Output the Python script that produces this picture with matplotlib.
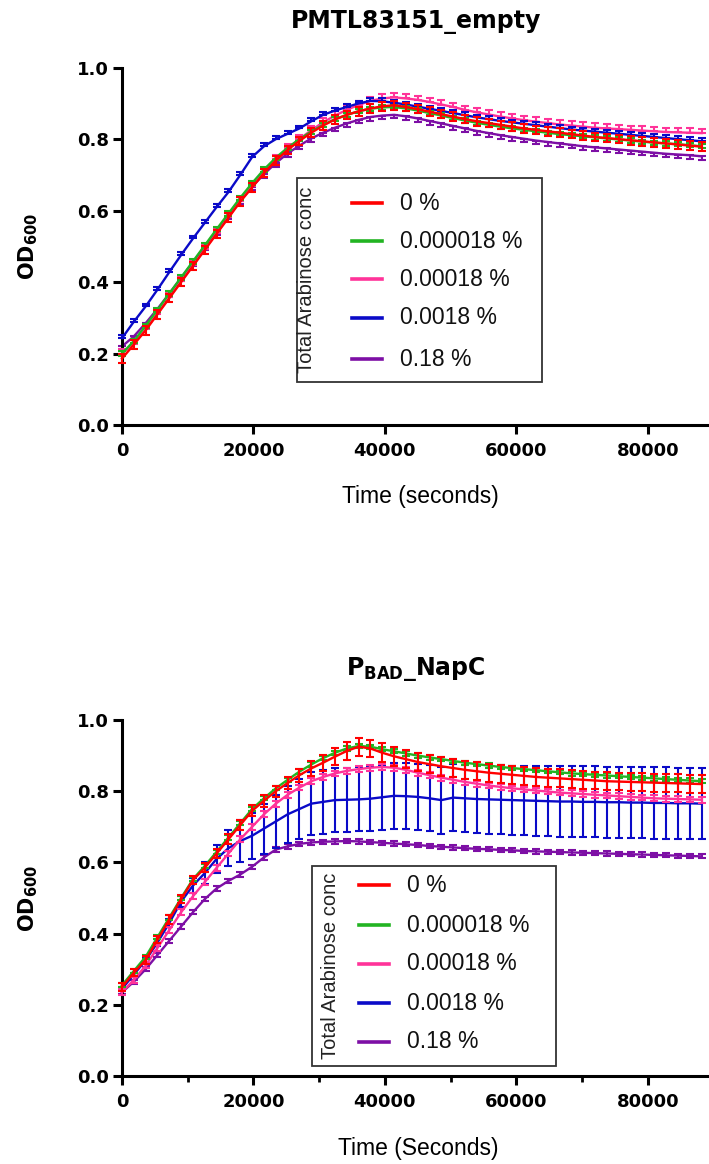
import matplotlib
matplotlib.use("Agg")
import matplotlib.pyplot as plt
from matplotlib.patches import Rectangle
from matplotlib.lines import Line2D
from matplotlib.ticker import MultipleLocator, FormatStrFormatter

plt.rcParams['mathtext.fontset'] = 'dejavusans'

# ---- data ----
time_s = [0, 1800, 3600, 5400, 7200, 9000, 10800, 12600, 14400, 16200,
          18000, 19800, 21600, 23400, 25200, 27000, 28800, 30600, 32400, 34200,
          36000, 37800, 39600, 41400, 43200, 45000, 46800, 48600, 50400, 52200,
          54000, 55800, 57600, 59400, 61200, 63000, 64800, 66600, 68400, 70200,
          72000, 73800, 75600, 77400, 79200, 81000, 82800, 84600, 86400, 88200]

conc_labels = ['0 %', '0.000018 %', '0.00018 %', '0.0018 %', '0.18 %']
colors = ['#ff0000', '#22b422', '#ff3399', '#0a0ac8', '#7d0fa5']

# PMTL83151_empty
top_red = [0.186, 0.225, 0.265, 0.31, 0.355, 0.40, 0.445, 0.49, 0.535, 0.58,
           0.625, 0.665, 0.705, 0.74, 0.77, 0.795, 0.818, 0.838, 0.855, 0.868,
           0.878, 0.886, 0.892, 0.895, 0.89, 0.884, 0.877, 0.87, 0.863, 0.856,
           0.85, 0.845, 0.84, 0.835, 0.83, 0.826, 0.822, 0.818, 0.814, 0.81,
           0.806, 0.803, 0.80, 0.797, 0.794, 0.791, 0.788, 0.785, 0.782, 0.779]
top_green = [0.20, 0.235, 0.278, 0.322, 0.368, 0.413, 0.458, 0.503, 0.548, 0.592,
             0.636, 0.677, 0.715, 0.748, 0.776, 0.80, 0.821, 0.84, 0.856, 0.868,
             0.878, 0.885, 0.889, 0.89, 0.886, 0.88, 0.873, 0.866, 0.859, 0.852,
             0.846, 0.84, 0.835, 0.83, 0.826, 0.822, 0.818, 0.814, 0.811, 0.808,
             0.805, 0.802, 0.799, 0.796, 0.793, 0.79, 0.788, 0.786, 0.783, 0.78]
top_pink = [0.20, 0.228, 0.268, 0.312, 0.357, 0.402, 0.447, 0.492, 0.537, 0.582,
            0.627, 0.668, 0.708, 0.744, 0.775, 0.80, 0.825, 0.847, 0.866, 0.882,
            0.896, 0.907, 0.914, 0.917, 0.914, 0.91, 0.904, 0.897, 0.89, 0.882,
            0.875, 0.869, 0.863, 0.858, 0.853, 0.849, 0.845, 0.841, 0.838, 0.835,
            0.832, 0.83, 0.828, 0.826, 0.824, 0.822, 0.82, 0.819, 0.818, 0.817]
top_blue = [0.243, 0.289, 0.332, 0.379, 0.428, 0.476, 0.522, 0.566, 0.61, 0.652,
            0.70, 0.75, 0.78, 0.80, 0.815, 0.83, 0.85, 0.868, 0.88, 0.89,
            0.90, 0.907, 0.906, 0.902, 0.897, 0.891, 0.885, 0.879, 0.873, 0.867,
            0.861, 0.856, 0.851, 0.847, 0.843, 0.839, 0.835, 0.831, 0.827, 0.824,
            0.821, 0.818, 0.815, 0.812, 0.809, 0.806, 0.803, 0.80, 0.797, 0.794]
top_purple = [0.22, 0.248, 0.285, 0.325, 0.368, 0.412, 0.456, 0.50, 0.543, 0.586,
              0.628, 0.667, 0.702, 0.733, 0.76, 0.782, 0.802, 0.818, 0.832, 0.844,
              0.854, 0.862, 0.866, 0.868, 0.864, 0.858, 0.851, 0.844, 0.837, 0.83,
              0.823, 0.817, 0.811, 0.806, 0.801, 0.796, 0.792, 0.788, 0.784, 0.78,
              0.777, 0.774, 0.771, 0.768, 0.765, 0.762, 0.759, 0.757, 0.755, 0.752]
top_err = [0.012, 0.006, 0.012, 0.008, 0.010]

# PBAD_NapC
bot_red = [0.25, 0.29, 0.326, 0.383, 0.44, 0.497, 0.55, 0.585, 0.625, 0.665,
           0.705, 0.745, 0.773, 0.80, 0.823, 0.845, 0.864, 0.88, 0.897, 0.913,
           0.925, 0.92, 0.908, 0.898, 0.89, 0.882, 0.876, 0.87, 0.865, 0.86,
           0.856, 0.852, 0.849, 0.846, 0.843, 0.84, 0.838, 0.836, 0.834, 0.832,
           0.83, 0.828, 0.827, 0.826, 0.825, 0.824, 0.823, 0.822, 0.821, 0.82]
bot_green = [0.255, 0.295, 0.335, 0.39, 0.445, 0.50, 0.553, 0.59, 0.63, 0.67,
             0.71, 0.75, 0.78, 0.808, 0.832, 0.855, 0.875, 0.893, 0.908, 0.92,
             0.927, 0.925, 0.918, 0.912, 0.906, 0.90, 0.895, 0.89, 0.885, 0.88,
             0.876, 0.872, 0.868, 0.865, 0.862, 0.859, 0.856, 0.853, 0.85, 0.848,
             0.846, 0.844, 0.842, 0.84, 0.838, 0.836, 0.834, 0.832, 0.83, 0.828]
bot_pink = [0.235, 0.27, 0.31, 0.36, 0.41, 0.46, 0.505, 0.545, 0.585, 0.625,
            0.665, 0.70, 0.735, 0.765, 0.79, 0.81, 0.828, 0.84, 0.85, 0.857,
            0.862, 0.866, 0.868, 0.866, 0.86, 0.852, 0.845, 0.838, 0.832, 0.826,
            0.821, 0.816, 0.812, 0.808, 0.805, 0.802, 0.799, 0.796, 0.794, 0.792,
            0.79, 0.788, 0.786, 0.784, 0.782, 0.78, 0.779, 0.778, 0.777, 0.776]
bot_blue = [0.245, 0.285, 0.325, 0.375, 0.43, 0.49, 0.535, 0.57, 0.61, 0.64,
            0.66, 0.675, 0.695, 0.715, 0.735, 0.75, 0.765, 0.77, 0.775, 0.776,
            0.777, 0.779, 0.783, 0.787, 0.786, 0.784, 0.78, 0.775, 0.782, 0.78,
            0.778, 0.777, 0.776, 0.775, 0.774, 0.773, 0.772, 0.771, 0.771, 0.77,
            0.77, 0.769, 0.769, 0.768, 0.768, 0.767, 0.767, 0.766, 0.766, 0.765]
bot_purple = [0.235, 0.265, 0.30, 0.34, 0.38, 0.42, 0.46, 0.497, 0.527, 0.548,
              0.566, 0.588, 0.614, 0.636, 0.645, 0.652, 0.656, 0.658, 0.659, 0.66,
              0.659, 0.657, 0.655, 0.653, 0.651, 0.649, 0.646, 0.644, 0.642, 0.64,
              0.638, 0.637, 0.635, 0.634, 0.632, 0.631, 0.63, 0.629, 0.628, 0.627,
              0.626, 0.625, 0.624, 0.623, 0.622, 0.621, 0.62, 0.619, 0.618, 0.617]
bot_red_err = [0.01, 0.01, 0.01, 0.01, 0.012, 0.012, 0.012, 0.012, 0.014, 0.014,
               0.015, 0.015, 0.016, 0.016, 0.018, 0.018, 0.02, 0.022, 0.024, 0.025,
               0.025, 0.025, 0.026, 0.026, 0.026, 0.026, 0.026, 0.026, 0.025, 0.025,
               0.025, 0.025, 0.025, 0.025, 0.025, 0.025, 0.025, 0.025, 0.025, 0.025,
               0.025, 0.025, 0.025, 0.025, 0.025, 0.025, 0.025, 0.025, 0.025, 0.025]
bot_blue_err = [0.005, 0.005, 0.008, 0.01, 0.012, 0.015, 0.02, 0.03, 0.04, 0.05,
                0.06, 0.065, 0.07, 0.075, 0.08, 0.085, 0.088, 0.09, 0.09, 0.09,
                0.09, 0.09, 0.092, 0.093, 0.093, 0.093, 0.093, 0.094, 0.095, 0.095,
                0.096, 0.096, 0.097, 0.097, 0.098, 0.098, 0.098, 0.099, 0.099, 0.1,
                0.1, 0.1, 0.1, 0.1, 0.1, 0.1, 0.1, 0.1, 0.1, 0.1]
bot_err_other = [0.006, 0.008, 0.006]   # green, pink, purple

W, H = 709, 1164


def fx(x):
    return x / W


def fy(y):
    return 1 - y / H


def style_axes(ax, minor):
    for s in ['top', 'right']:
        ax.spines[s].set_visible(False)
    for s in ['left', 'bottom']:
        ax.spines[s].set_linewidth(2.2)
    ax.set_xlim(0, 89320)
    ax.set_ylim(0, 1.0)
    ax.xaxis.set_major_locator(MultipleLocator(20000))
    ax.yaxis.set_major_locator(MultipleLocator(0.2))
    ax.yaxis.set_major_formatter(FormatStrFormatter('%.1f'))
    if minor:
        ax.xaxis.set_minor_locator(MultipleLocator(10000))
    ax.tick_params(which='major', length=6.5, width=2.2, labelsize=13, pad=3)
    ax.tick_params(axis='x', which='major', pad=6)
    ax.tick_params(which='minor', length=4, width=2.0)
    for lab in ax.get_xticklabels() + ax.get_yticklabels():
        lab.set_fontweight('bold')
    ax.patch.set_alpha(0)


def plot_series(ax, y, err, color, side, z):
    if side == 'up':
        yerr = [[0] * len(y), [err] * len(y) if not isinstance(err, list) else err]
    elif side == 'down':
        yerr = [[err] * len(y) if not isinstance(err, list) else err, [0] * len(y)]
    else:
        yerr = err
    ax.errorbar(time_s, y, yerr=yerr, color=color, lw=1.7, elinewidth=1.5,
                capsize=2.8, capthick=1.5, zorder=z, clip_on=False)


def draw_legend(fig, box, title_x, hx, text_x, rows):
    x0, y0, x1, y1 = box
    fig.add_artist(Rectangle((fx(x0), fy(y1)), fx(x1) - fx(x0), fy(y0) - fy(y1),
                             transform=fig.transFigure, facecolor='white',
                             edgecolor='#333333', lw=1.3, zorder=10))
    fig.text(fx(title_x), fy((y0 + y1) / 2), 'Total Arabinose conc', rotation=90,
             ha='center', va='center', fontsize=14.5, family='Liberation Sans',
             color='#222222', zorder=11)
    for lab, col, ry in zip(conc_labels, colors, rows):
        fig.add_artist(Line2D([fx(hx[0]), fx(hx[1])], [fy(ry), fy(ry)], color=col,
                              lw=2.6, transform=fig.transFigure, zorder=11))
        fig.text(fx(text_x), fy(ry), lab, ha='left', va='center', fontsize=16.5,
                 family='Liberation Sans', color='#111111', zorder=11)


fig = plt.figure(figsize=(W / 100, H / 100), dpi=100)

# top panel
ax1 = fig.add_axes([fx(122), fy(425), 1 - fx(122), fy(67.7) - fy(425)])
plot_series(ax1, top_purple, top_err[4], colors[4], 'down', 2)
plot_series(ax1, top_pink, top_err[2], colors[2], 'up', 3)
plot_series(ax1, top_blue, top_err[3], colors[3], 'up', 4)
plot_series(ax1, top_green, top_err[1], colors[1], 'both', 5)
plot_series(ax1, top_red, top_err[0], colors[0], 'both', 6)
style_axes(ax1, minor=False)

# bottom panel
ax2 = fig.add_axes([fx(122), fy(1076), 1 - fx(122), fy(720) - fy(1076)])
plot_series(ax2, bot_purple, bot_err_other[2], colors[4], 'both', 2)
plot_series(ax2, bot_blue, bot_blue_err, colors[3], 'both', 3)
plot_series(ax2, bot_pink, bot_err_other[1], colors[2], 'both', 4)
plot_series(ax2, bot_green, bot_err_other[0], colors[1], 'both', 5)
plot_series(ax2, bot_red, bot_red_err, colors[0], 'both', 6)
style_axes(ax2, minor=True)

# titles and axis labels
fig.text(fx(416), fy(22), 'PMTL83151_empty', ha='center', va='center',
         fontsize=17, fontweight='bold')
fig.text(fx(416), fy(669), r'$\mathbf{P_{BAD}\_NapC}$', ha='center', va='center',
         fontsize=17)
for yc in [(425 + 67.7) / 2, (1076 + 720) / 2]:
    fig.text(fx(28), fy(yc), r'$\mathbf{OD_{600}}$', rotation=90, ha='center',
             va='center', fontsize=15)
fig.text(fx(420), fy(497), 'Time (seconds)', ha='center', va='center',
         fontsize=16.5, family='Liberation Sans')
fig.text(fx(418), fy(1148), 'Time (Seconds)', ha='center', va='center',
         fontsize=16.5, family='Liberation Sans')

draw_legend(fig, (297, 178, 542, 382), 307, (352, 382), 400, [203, 241, 279, 318, 359])
draw_legend(fig, (312, 866, 556, 1066), 330, (359, 389), 407, [885, 925, 964, 1003, 1042])

fig.savefig('out.png', dpi=100)
